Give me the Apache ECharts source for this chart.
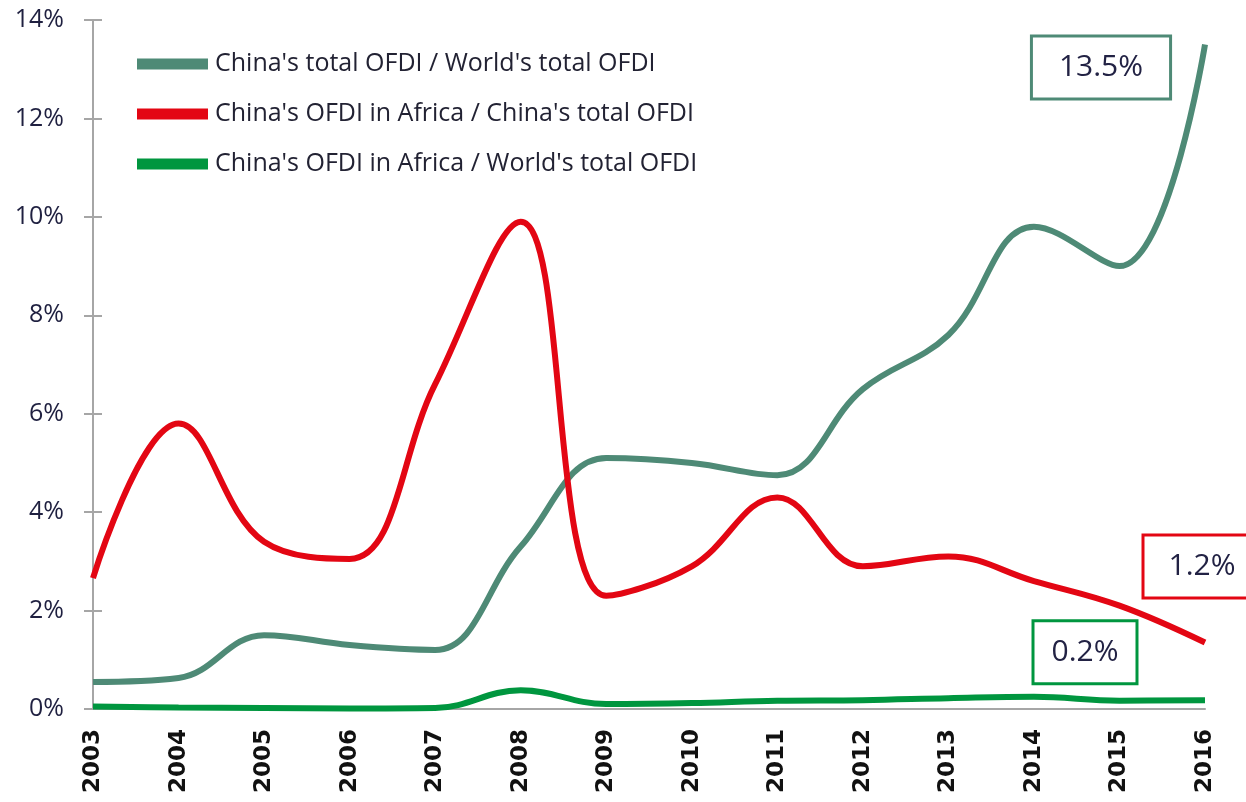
<!DOCTYPE html>
<html>
<head>
<meta charset="utf-8">
<script src="https://cdn.jsdelivr.net/npm/echarts@6/dist/echarts.min.js"></script>
<style>
  html, body { margin: 0; padding: 0; background: #fff; }
  #chart { width: 1246px; height: 802px; }
</style>
</head>
<body>
<div id="chart"></div>
<script>
const years = ['2003', '2004', '2005', '2006', '2007', '2008', '2009', '2010', '2011', '2012', '2013', '2014', '2015', '2016']
const chinaWorld = [0.55, 0.63, 1.5, 1.3, 1.2, 3.3, 5.1, 5.0, 4.75, 6.5, 7.6, 9.8, 9.0, 13.5]
const africaChina = [2.66, 5.8, 3.4, 3.05, 6.6, 9.9, 2.3, 2.9, 4.3, 2.9, 3.1, 2.6, 2.1, 1.35]
const africaWorld = [0.05, 0.03, 0.02, 0.01, 0.02, 0.38, 0.1, 0.12, 0.17, 0.18, 0.22, 0.25, 0.17, 0.18]
const seriesNames = [
  "China's total OFDI / World's total OFDI",
  "China's OFDI in Africa / China's total OFDI",
  "China's OFDI in Africa / World's total OFDI"
]
const endLabels = ['13.5%', '1.2%', '0.2%']

const colors = ['#4e8a76', '#e30613', '#00963f']
const labelOffsets = [[-104, 23], [-3, -76], [-120, -48]]
const labelPadding = [[14, 26], [14, 24], [14, 17]]

const chart = echarts.init(document.getElementById('chart'))

const makeSeries = (name, data, i) => ({
  name: name,
  type: 'line',
  data: data,
  smooth: 0.4,
  symbol: 'none',
  lineStyle: { width: 6, color: colors[i] },
  itemStyle: { color: colors[i] },
  markPoint: {
    symbol: 'rect',
    symbolSize: 0,
    data: [{ coord: [years.length - 1, data[data.length - 1]] }],
    label: {
      show: true,
      position: 'inside',
      offset: labelOffsets[i],
      formatter: endLabels[i],
      fontFamily: 'Open Sans',
      fontSize: 30,
      lineHeight: 32,
      color: '#222244',
      backgroundColor: '#fff',
      borderColor: colors[i],
      borderWidth: 3,
      padding: labelPadding[i]
    }
  }
})

const option = {
  animation: false,
  grid: { left: 93, right: 41, top: 20, bottom: 93 },
  legend: {
    orient: 'vertical',
    left: 132,
    top: 44,
    itemWidth: 71,
    itemHeight: 11,
    itemGap: 20,
    icon: 'rect',
    textStyle: { fontFamily: 'Open Sans', fontSize: 25, lineHeight: 30, color: '#222233', padding: [0, 0, 0, 2] },
    data: seriesNames
  },
  xAxis: {
    type: 'category',
    data: years,
    boundaryGap: false,
    axisLine: { lineStyle: { color: '#a6a6a6', width: 2 } },
    axisTick: { show: false },
    axisLabel: {
      rotate: 90,
      margin: 20,
      fontFamily: 'DejaVu Sans',
      fontWeight: 'bold',
      fontSize: 23,
      color: '#111111'
    }
  },
  yAxis: [
    {
      type: 'value',
      min: 0,
      max: 14,
      interval: 2,
      axisLine: { show: true, lineStyle: { color: '#a6a6a6', width: 2 } },
      axisTick: { show: true, length: 9, lineStyle: { color: '#a6a6a6', width: 2 } },
      splitLine: { show: false },
      axisLabel: {
        formatter: '{value}%',
        margin: 29,
        fontFamily: 'Open Sans',
        fontSize: 25,
        color: '#1f2040'
      }
    },
    {
      type: 'value',
      position: 'left',
      min: 0,
      max: 14,
      interval: 2,
      axisLine: { show: false },
      axisTick: { show: true, inside: true, length: 9, lineStyle: { color: '#a6a6a6', width: 2 } },
      splitLine: { show: false },
      axisLabel: { show: false }
    }
  ],
  series: [
    makeSeries(seriesNames[0], chinaWorld, 0),
    makeSeries(seriesNames[1], africaChina, 1),
    makeSeries(seriesNames[2], africaWorld, 2)
  ]
}

option && chart.setOption(option)
</script>
</body>
</html>
